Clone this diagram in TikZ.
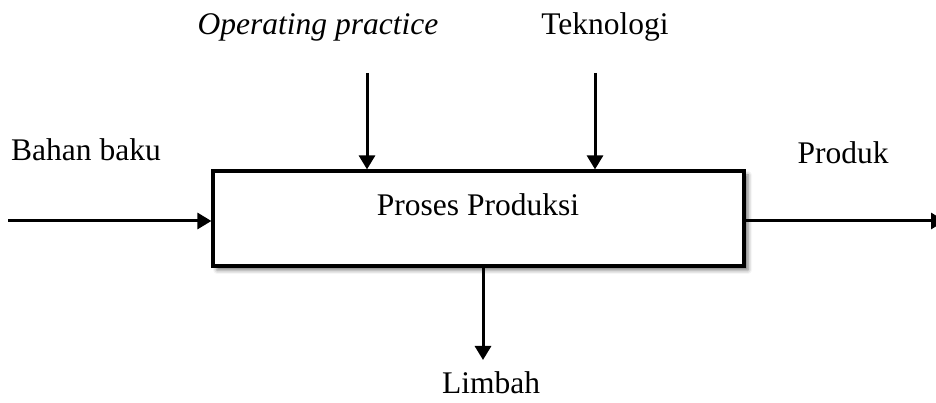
\documentclass[tikz,border=0pt]{standalone}
\usepackage{fontspec}
\setmainfont{Liberation Serif}
\usetikzlibrary{arrows.meta,shadows.blur}
\begin{document}
\begin{tikzpicture}[x=1pt,y=1pt,
  conn/.style={line width=3pt,-{Triangle[width=16pt,length=14pt]}},
  lbl/.style={anchor=base,inner sep=0pt,font=\fontsize{31.5}{36}\selectfont},
  procbox/.style={draw,line width=3.2pt,fill=white,minimum width=531pt,minimum height=95pt,inner sep=0pt,
    blur shadow={shadow xshift=4pt,shadow yshift=-4pt,shadow blur radius=4pt,shadow opacity=55}}]
\useasboundingbox (0,0) rectangle (936,403);
\node[procbox] (box) at (478.5,184.5) {};
\node[lbl] (proses) at (478,187) {Proses Produksi};
\node[lbl] (op) at (318,368) {\itshape Operating practice};
\node[lbl] (tek) at (605,368) {Teknologi};
\node[lbl] (bahan) at (86,242) {Bahan baku};
\node[lbl] (produk) at (843,239) {Produk};
\node[lbl] (limbah) at (491,9) {Limbah};
\coordinate (inL) at (8,182);
\coordinate (outR) at (945,182);
\coordinate (topA) at (367,330);
\coordinate (topB) at (595,330);
\coordinate (botC) at (483,43);
\draw[conn] (inL) -- (box.west |- inL);
\draw[conn] (box.east |- outR) -- (outR);
\draw[conn] (topA) -- (topA |- box.north);
\draw[conn] (topB) -- (topB |- box.north);
\draw[conn] (botC |- box.south) -- (botC);
\end{tikzpicture}
\end{document}
